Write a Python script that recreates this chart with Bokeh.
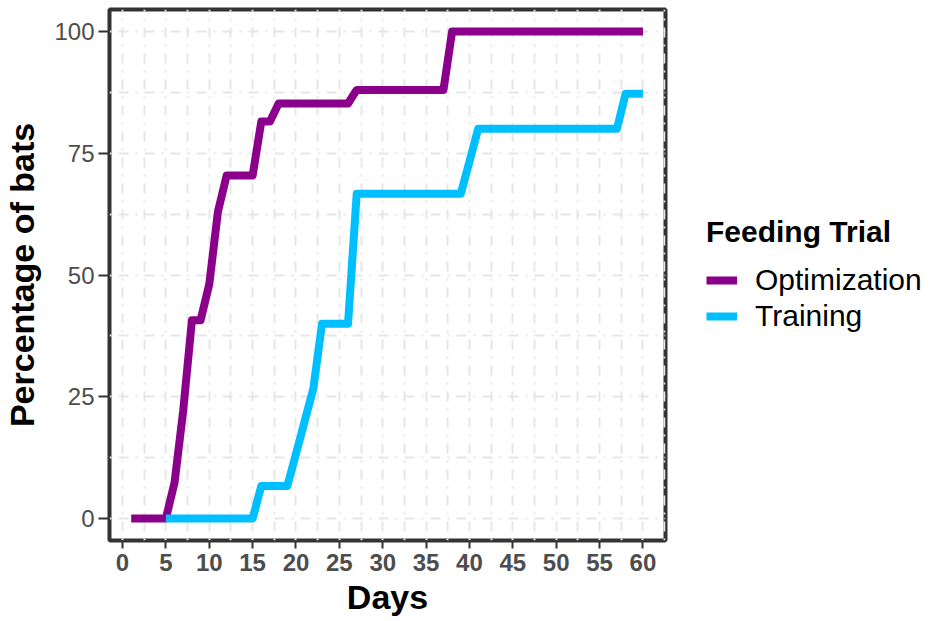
from bokeh.plotting import figure
from bokeh.models import Range1d, FixedTicker, Legend, LegendItem
from bokeh.embed import file_html
from bokeh.resources import INLINE

# ---- data ----
opt_days = [1, 5, 6, 7, 8, 9, 10, 11, 12, 15, 16, 17, 18, 26, 27, 37, 38, 60]
opt_pct = [0, 0, 7.4, 22.2, 40.7, 40.7, 48.1, 63.0, 70.4, 70.4, 81.5, 81.5, 85.2, 85.2, 88.0, 88.0, 100, 100]

train_days = [5, 15, 16, 19, 20, 21, 22, 23, 26, 27, 39, 40, 41, 57, 58, 60]
train_pct = [0, 0, 6.7, 6.7, 13.3, 20.0, 26.7, 40.0, 40.0, 66.7, 66.7, 73.3, 80.0, 80.0, 87.2, 87.2]

series_names = ["Optimization", "Training"]
series_colors = ["#8B008B", "#00BFFF"]

x_ticks = [0, 5, 10, 15, 20, 25, 30, 35, 40, 45, 50, 55, 60]
x_minor = [2.5, 7.5, 12.5, 17.5, 22.5, 27.5, 32.5, 37.5, 42.5, 47.5, 52.5, 57.5, 62.5]
y_ticks = [0, 25, 50, 75, 100]
y_minor = [12.5, 37.5, 62.5, 87.5]

FONT = "Liberation Sans"

p = figure(
    frame_width=556, frame_height=531,
    x_range=Range1d(-1.5, 62.6), y_range=Range1d(-4.5, 104.5),
    output_backend="svg", toolbar_location=None,
    min_border_left=105, min_border_right=255, min_border_top=9, min_border_bottom=60,
)
p.background_fill_color = "white"
p.border_fill_color = "white"
p.outline_line_color = "#333333"
p.outline_line_width = 4

p.xaxis.ticker = FixedTicker(ticks=x_ticks, minor_ticks=x_minor)
p.yaxis.ticker = FixedTicker(ticks=y_ticks, minor_ticks=y_minor)

for g in (p.xgrid, p.ygrid):
    g.grid_line_color = "#E6E6E6"
    g.grid_line_width = 2
    g.grid_line_dash = "2 7 10 7"
    g.minor_grid_line_color = "#E6E6E6"
    g.minor_grid_line_width = 2
    g.minor_grid_line_dash = "2 7 10 7"

for ax in (p.xaxis, p.yaxis):
    ax.axis_line_color = None
    ax.minor_tick_line_color = None
    ax.major_tick_line_color = "#333333"
    ax.major_tick_line_width = 2
    ax.major_tick_in = 0
    ax.major_label_text_font = FONT
    ax.major_label_text_font_size = "24px"
    ax.major_label_text_color = "#4D4D4D"
    ax.axis_label_text_font = FONT
    ax.axis_label_text_font_size = "34px"
    ax.axis_label_text_font_style = "bold"
    ax.axis_label_text_color = "black"

p.xaxis.major_tick_out = 8
p.yaxis.major_tick_out = 11
p.xaxis.major_label_text_font_style = "bold"
p.xaxis.major_label_standoff = 5
p.yaxis.major_label_standoff = 4
p.xaxis.axis_label = "Days"
p.yaxis.axis_label = "Percentage of bats"
p.xaxis.axis_label_standoff = 4
p.yaxis.axis_label_standoff = 10

r_opt = p.line(opt_days, opt_pct, line_color=series_colors[0], line_width=8, line_join="round")
r_tr = p.line(train_days, train_pct, line_color=series_colors[1], line_width=8, line_join="round")

legend = Legend(
    items=[LegendItem(label=series_names[0], renderers=[r_opt]),
           LegendItem(label=series_names[1], renderers=[r_tr])],
    location=(41, 207),
    title="Feeding Trial",
    title_text_font=FONT, title_text_font_size="30px", title_text_font_style="bold",
    title_text_color="black", title_standoff=14,
    label_text_font=FONT, label_text_font_size="30px", label_text_color="black",
    glyph_width=31, glyph_height=30, label_standoff=18, spacing=2,
    padding=0, margin=0, border_line_color=None, background_fill_alpha=0,
)
p.add_layout(legend, "right")

with open("out.html", "w") as f:
    f.write(file_html(p, INLINE))
